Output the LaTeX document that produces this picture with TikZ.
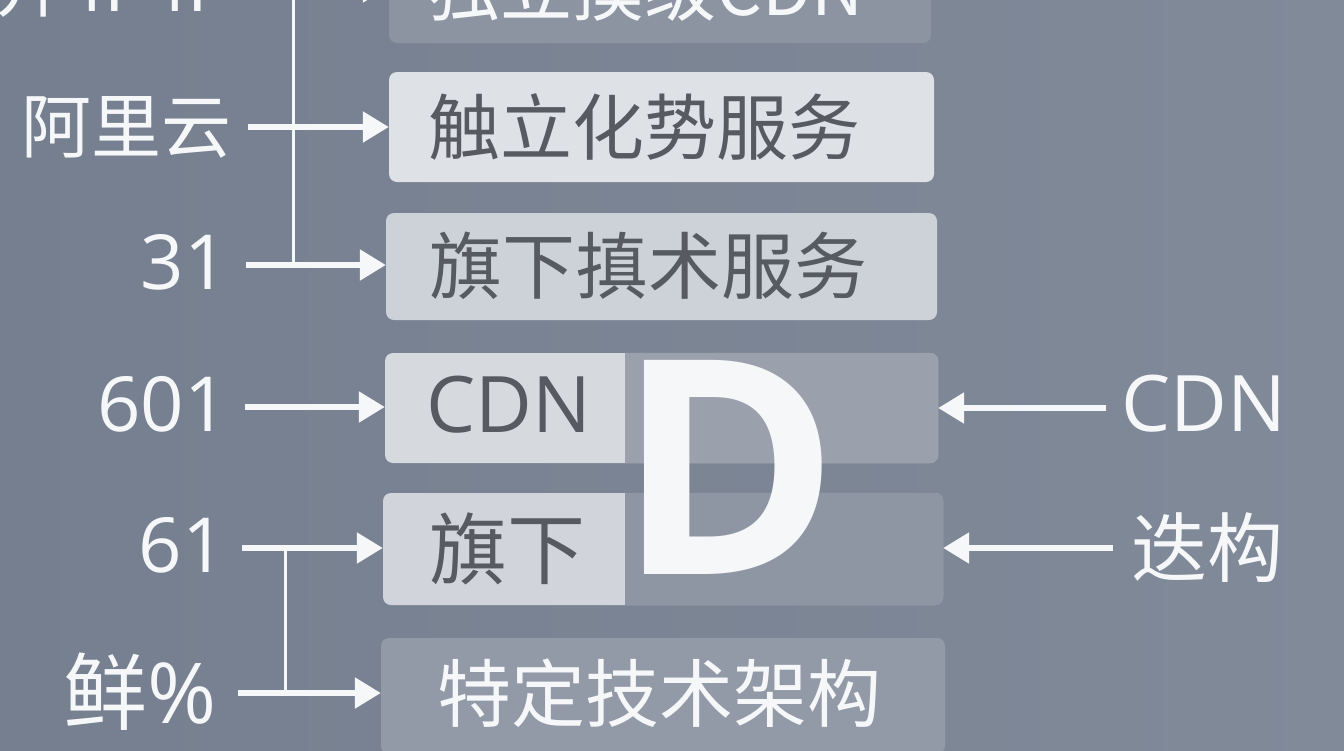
\documentclass[tikz,border=0pt]{standalone}
\usepackage{fontspec}
\setmainfont{Open Sans}
\newfontfamily\cjk{Noto Sans CJK SC}
\newfontfamily\lat{Open Sans}
\usetikzlibrary{arrows.meta}
\newcommand\fsz[1]{\fontsize{#1}{#1}\selectfont}
\definecolor{bgL}{RGB}{117,127,143}
\definecolor{bgR}{RGB}{129,138,153}
\definecolor{bxA}{RGB}{140,148,162}
\definecolor{bxB}{RGB}{222,225,230}
\definecolor{bxC}{RGB}{205,209,216}
\definecolor{bxDL}{RGB}{214,217,222}
\definecolor{bxDR}{RGB}{154,160,172}
\definecolor{bxEL}{RGB}{209,212,218}
\definecolor{bxER}{RGB}{143,150,163}
\definecolor{bxF}{RGB}{147,154,167}
\definecolor{dtext}{RGB}{88,90,97}
\definecolor{wtext}{RGB}{246,247,249}
\begin{document}
\begin{tikzpicture}[x=1pt,y=-1pt,
  box/.style={rectangle, rounded corners=8pt, inner sep=0pt, draw=none},
  dlab/.style={inner sep=0pt, text=dtext, anchor=west},
  wlab/.style={inner sep=0pt, text=wtext},
  arr/.style={draw=wtext, line width=5.5pt, -{Triangle[length=26pt,width=30pt]}},
  vline/.style={draw=wtext, line width=3pt}]
\useasboundingbox (0,0) rectangle (1344,750);
\clip (0,0) rectangle (1344,750);
\shade[left color=bgL, right color=bgR] (0,0) rectangle (1344,750);

% boxes
\node[box, fill=bxA, minimum width=542pt, minimum height=112pt] (b0) at (660,-13) {};
\node[box, fill=bxB, minimum width=545pt, minimum height=110pt] (b1) at (661.5,127) {};
\node[box, fill=bxC, minimum width=551pt, minimum height=107pt] (b2) at (661.5,266.5) {};
\node[box, fill=bxDL, minimum width=553pt, minimum height=110pt] (b3) at (661.5,408) {};
\node[box, fill=bxEL, minimum width=560pt, minimum height=112pt] (b4) at (663,549) {};
\node[box, fill=bxF, minimum width=564pt, minimum height=116pt] (b5) at (663,696) {};
\begin{scope}
\clip[rounded corners=8pt] (b3.south west) rectangle (b3.north east);
\fill[bxDR] (625,340) rectangle (960,480);
\end{scope}
\begin{scope}
\clip[rounded corners=8pt] (b4.south west) rectangle (b4.north east);
\fill[bxER] (625,480) rectangle (960,620);
\end{scope}

% box texts
\node[wlab, anchor=west, font=\cjk\fsz{72}] (t0) at (428,-12) {独立摸级CDN};
\node[dlab, font=\cjk\fsz{72}] (t1) at (428,127) {触立化势服务};
\node[dlab, font=\cjk\fsz{73}] (t2) at (429,266) {旗下搷术服务};
\node[dlab, font=\lat\fsz{78}] (t3) at (426,405) {CDN};
\node[dlab, font=\cjk\fsz{78}] (t4) at (429,549) {旗下};
\node[wlab, anchor=west, font=\cjk\fsz{74}] (t5) at (437,693) {特定技术架构};

% big D
\node[inner sep=0pt, text=wtext, font=\lat\bfseries\fsz{300}] (bigD) at (729,467) {D};

% left labels
\node[wlab, anchor=east, font=\cjk\fsz{70}] (l0) at (232,-13) {开4P4P};
\node[wlab, anchor=east, font=\cjk\fsz{70}] (l1) at (232,127) {阿里云};
\node[wlab, anchor=east, font=\lat\fsz{76}] (l2) at (228,262) {31};
\node[wlab, anchor=east, font=\lat\fsz{76}] (l3) at (228,404) {601};
\node[wlab, anchor=east, font=\lat\fsz{76}] (l4) at (226,545) {61};
\node[wlab, anchor=east, font=\fsz{84}] (l5) at (217,692) {{\cjk 鲜}{\lat \%}};

% right labels
\node[wlab, anchor=west, font=\lat\fsz{78}] (r1) at (1121,404) {CDN};
\node[wlab, anchor=west, font=\cjk\fsz{76}] (r2) at (1131,548) {迭构};

% arrow start points
\coordinate (s0) at (248,-13);
\coordinate (s1) at (248,127);
\coordinate (s2) at (246,265);
\coordinate (s3) at (245,407);
\coordinate (s4) at (242,548);
\coordinate (s5) at (238,693);
\coordinate (e1) at (1106,408);
\coordinate (e2) at (1113,548);
\coordinate (vt) at (293,-40);
\coordinate (vb) at (293,265);
\coordinate (wt) at (285,548);
\coordinate (wb) at (285,693);

% connectors
\draw[vline] (vt) -- (vb);
\draw[vline] (wt) -- (wb);
\draw[arr] (s0) -- (s0 -| b0.west);
\draw[arr] (s1) -- (s1 -| b1.west);
\draw[arr] (s2) -- (s2 -| b2.west);
\draw[arr] (s3) -- (s3 -| b3.west);
\draw[arr] (s4) -- (s4 -| b4.west);
\draw[arr] (s5) -- (s5 -| b5.west);
\draw[arr] (e1) -- (e1 -| b3.east);
\draw[arr] (e2) -- (e2 -| b4.east);
\end{tikzpicture}
\end{document}
